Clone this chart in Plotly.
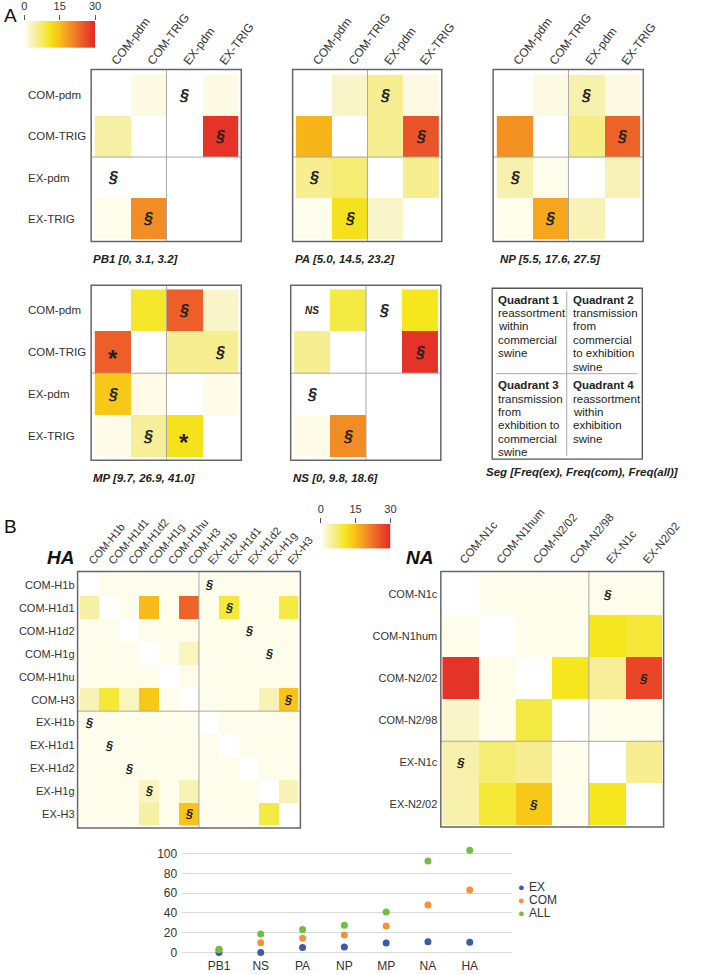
import plotly.graph_objects as go
import numpy as np

W, H = 702, 974
FONT = "Liberation Sans, Arial, Helvetica, sans-serif"

# ---------------- data ----------------
seg_types = ["COM-pdm", "COM-TRIG", "EX-pdm", "EX-TRIG"]

pb1_vals = [[0, 1.0, 0, 1.0],
            [4.5, 0, 0, 29],
            [0, 0, 0, 0],
            [0.7, 20, 0, 0]]
pa_vals = [[0, 2.5, 5.5, 1.0],
           [16, 0, 5.5, 25.5],
           [5.5, 7, 0, 5.5],
           [0.7, 11, 2.5, 0]]
np_vals = [[0, 1.0, 4, 1.0],
           [19.5, 0, 6, 24],
           [4, 0.7, 0, 3.5],
           [0.7, 17.5, 3.5, 0]]
mp_vals = [[0, 10, 24.5, 2.5],
           [24.5, 0, 5.5, 5.5],
           [14, 0.8, 0, 0.8],
           [0.8, 5, 11, 0]]
ns_vals = [[0, 9, 0, 10.5],
           [5.5, 0, 0, 29],
           [0, 0, 0, 0],
           [0.8, 20, 0, 0]]

seg_titles = ["PB1 [0, 3.1, 3.2]", "PA [5.0, 14.5, 23.2]", "NP [5.5, 17.6, 27.5]",
              "MP [9.7, 26.9, 41.0]", "NS [0, 9.8, 18.6]"]
seg_marks = [(0, 2, "§"), (1, 3, "§"), (2, 0, "§"), (3, 1, "§")]
mp_star_marks = [(1, 0, "*"), (3, 2, "*")]

ha_types = ["COM-H1b", "COM-H1d1", "COM-H1d2", "COM-H1g", "COM-H1hu", "COM-H3",
            "EX-H1b", "EX-H1d1", "EX-H1d2", "EX-H1g", "EX-H3"]
ha_vals = [
    [0, 0.7, 0.7, 0.7, 0.7, 0.7, 0.7, 0.7, 0.7, 0.7, 0.7],
    [4.5, 0, 0.7, 15.5, 0.7, 24, 0.7, 9.5, 0.7, 0.7, 9],
    [0.7, 0.7, 0, 0.7, 0.7, 0.7, 0.7, 0.7, 0.7, 0.7, 0.7],
    [0.7, 0.7, 0.7, 0, 0.7, 3, 0.7, 0.7, 0.7, 0.7, 0.7],
    [0.7, 0.7, 0.7, 0.7, 0, 0.7, 0.7, 0.7, 0.7, 0.7, 0.7],
    [3.5, 9.5, 3, 14, 0.7, 0, 0.7, 0.7, 0.7, 3.5, 14.5],
    [0.7, 0.7, 0.7, 0.7, 0.7, 0.7, 0, 0.7, 0.7, 0.7, 0.7],
    [0.7, 0.7, 0.7, 0.7, 0.7, 0.7, 0.7, 0, 0.7, 0.7, 0.7],
    [0.7, 0.7, 0.7, 0.7, 0.7, 0.7, 0.7, 0.7, 0, 0.7, 0.7],
    [0.7, 0.7, 0.7, 3, 0.7, 3.5, 0.7, 0.7, 0.7, 0, 3.5],
    [0.7, 0.7, 0.7, 4.5, 0.7, 14.5, 0.7, 0.7, 0.7, 9, 0],
]
ha_marks = [(0, 6, "§"), (1, 7, "§"), (2, 8, "§"), (3, 9, "§"), (5, 10, "§"),
            (6, 0, "§"), (7, 1, "§"), (8, 2, "§"), (9, 3, "§"), (10, 5, "§")]

na_types = ["COM-N1c", "COM-N1hum", "COM-N2/02", "COM-N2/98", "EX-N1c", "EX-N2/02"]
na_vals = [
    [0, 0.7, 0.7, 0.7, 0.7, 0.7],
    [0.7, 0, 0.7, 0.7, 10.5, 9.5],
    [29, 0.7, 0, 10.5, 5, 27],
    [2.5, 0.7, 9, 0, 0.7, 0.7],
    [4, 7, 5.5, 0.7, 0, 5.5],
    [4, 9.5, 14, 0.7, 10.5, 0],
]
na_marks = [(0, 4, "§"), (2, 5, "§"), (4, 0, "§"), (5, 2, "§")]

segments = ["PB1", "NS", "PA", "NP", "MP", "NA", "HA"]
freq_ex = [0, 0, 5.0, 5.5, 9.7, 10.8, 10.3]
freq_com = [3.1, 9.8, 14.5, 17.6, 26.9, 48, 63.3]
freq_all = [3.2, 18.6, 23.2, 27.5, 41.0, 92.6, 103.6]
series_names = ["EX", "COM", "ALL"]
series_colors = ["#3B5BA9", "#F4913C", "#71BE45"]

cbar_ticks = [0, 15, 30]

quad_col1 = [("<b>Quadrant 1</b>", 298), ("reassortment", 311), ("within", 324),
             ("commercial", 338), ("swine", 351),
             ("<b>Quadrant 3</b>", 383), ("transmission", 397), ("from", 411),
             ("exhibition to", 424), ("commercial", 438), ("swine", 451)]
quad_col2 = [("<b>Quadrant 2</b>", 298), ("transmission", 311), ("from", 324),
             ("commercial", 338), ("to exhibition", 351), ("swine", 365),
             ("<b>Quadrant 4</b>", 383), ("reassortment", 397), ("within", 411),
             ("exhibition", 424), ("swine", 438)]

# ---------------- styling ----------------
CS = [[0, '#FFFFFF'], [0.02, '#FEFCEC'], [0.05, '#FCF8DA'], [0.15, '#F7EFA4'],
      [0.25, '#F4EB6A'], [0.35, '#F5E61E'], [0.5, '#F9BF17'], [0.67, '#F28B24'],
      [0.83, '#EC5A28'], [1, '#E52A28']]


def fx(p):
    return p / W


def fy(p):
    return 1 - p / H


fig = go.Figure()
shapes = []
annotations = []
axes = {}


def note(x, y, text, size, color='#222', xanchor='center', yanchor='middle',
         xref='paper', yref='paper', yshift=0):
    annotations.append(dict(xref=xref, yref=yref, x=x, y=y, text=text, showarrow=False,
                            xanchor=xanchor, yanchor=yanchor, yshift=yshift,
                            font=dict(size=size, color=color, family=FONT)))


def refs(n):
    return ('x' if n == 1 else f'x{n}', 'y' if n == 1 else f'y{n}')


def akeys(n):
    return ('xaxis' if n == 1 else f'xaxis{n}', 'yaxis' if n == 1 else f'yaxis{n}')


def add_matrix(n, z, cats, cell, box, xlabels, xfont, xangle, ylabels, yfont,
               marks, mark_size, divider):
    xr, yr = refs(n)
    xk, yk = akeys(n)
    fig.add_trace(go.Heatmap(z=z, x=cats, y=cats, xaxis=xr, yaxis=yr, colorscale=CS,
                             zmin=0, zmax=30, showscale=False, hoverinfo='skip'))
    x0, x1, y0, y1 = cell
    axes[xk] = dict(domain=[fx(x0), fx(x1)], anchor=yr, side='top', type='category',
                    showticklabels=xlabels, tickangle=xangle,
                    tickfont=dict(size=xfont, color='#333'), ticks='',
                    showgrid=False, zeroline=False, showline=False,
                    ticklabelstandoff=3)
    axes[yk] = dict(domain=[fy(y1), fy(y0)], anchor=xr, type='category',
                    autorange='reversed', showticklabels=ylabels,
                    tickfont=dict(size=yfont, color='#333'), ticks='',
                    showgrid=False, zeroline=False, showline=False,
                    ticklabelstandoff=4)
    bx0, bx1, by0, by1 = box
    shapes.append(dict(type='line', xref=xr, yref='paper', x0=divider, x1=divider,
                       y0=fy(by0), y1=fy(by1), line=dict(color='#A8A8A8', width=1)))
    shapes.append(dict(type='line', xref='paper', yref=yr, x0=fx(bx0), x1=fx(bx1),
                       y0=divider, y1=divider, line=dict(color='#A8A8A8', width=1)))
    shapes.append(dict(type='rect', xref='paper', yref='paper', x0=fx(bx0), x1=fx(bx1),
                       y0=fy(by1), y1=fy(by0), line=dict(color='#666666', width=1.5)))
    for (r, c, sym) in marks:
        if sym == "*":
            note(cats[c], cats[r], "<b>*</b>", mark_size + 8, xref=xr, yref=yr, yshift=-6)
        else:
            note(cats[c], cats[r], f"<b><i>{sym}</i></b>", mark_size, xref=xr, yref=yr)


A_XANG = -53
# Row 1 of A
add_matrix(1, pb1_vals, seg_types, (94.5, 243, 71, 237), (91, 246, 66, 239),
           True, 12, A_XANG, False, 12, seg_marks, 16, 1.5)
add_matrix(2, pa_vals, seg_types, (302.5, 450, 71, 237), (299, 453, 66, 239),
           True, 12, A_XANG, False, 12, seg_marks, 16, 1.5)
add_matrix(3, np_vals, seg_types, (509.5, 658, 71, 237), (506, 661, 66, 239),
           True, 12, A_XANG, False, 12, seg_marks, 16, 1.5)
# Row 2 of A
add_matrix(4, mp_vals, seg_types, (94.5, 243, 287, 456), (91, 246, 283, 459),
           False, 12, A_XANG, False, 12, seg_marks + mp_star_marks, 16, 1.5)
add_matrix(5, ns_vals, seg_types, (300.5, 449, 287, 456), (297, 452, 283, 459),
           False, 12, A_XANG, False, 12, seg_marks, 16, 1.5)
# B
add_matrix(6, ha_vals, ha_types, (79, 305, 573, 827), (77, 307, 571, 829),
           True, 11, -50, True, 11, ha_marks, 12.5, 5.5)
add_matrix(7, na_vals, na_types, (453.5, 680.5, 572.5, 826.5), (452, 682, 571, 828),
           True, 11.5, -50, True, 11, na_marks, 13.5, 3.5)

# "NS" label inside the NS matrix
note(seg_types[0], seg_types[0], "<b><i>NS</i></b>", 10, xref='x5', yref='y5')

# left-aligned row labels for PB1 and MP
for n in (1, 4):
    xr, yr = refs(n)
    for cat in seg_types:
        note(fx(24), cat, cat, 11.5, color='#333', xanchor='left', yref=yr)

# panel titles
title_pos = [(91, 257), (299, 257), (511, 257), (91, 477), (297, 477)]
for t, (tx, ty) in zip(seg_titles, title_pos):
    note(fx(tx), fy(ty), f"<b><i>{t}</i></b>", 11.5, xanchor='left')
note(fx(497), fy(471), "<b><i>Seg [Freq(ex), Freq(com), Freq(all)]</i></b>", 11.5,
     xanchor='left')

# Seg quadrant legend box
shapes.append(dict(type='rect', xref='paper', yref='paper', x0=fx(505), x1=fx(660),
                   y0=fy(458), y1=fy(286), line=dict(color='#555555', width=1.3)))
shapes.append(dict(type='line', xref='paper', yref='paper', x0=fx(582), x1=fx(582),
                   y0=fy(289), y1=fy(455), line=dict(color='#AAAAAA', width=1)))
shapes.append(dict(type='line', xref='paper', yref='paper', x0=fx(509), x1=fx(655),
                   y0=fy(372), y1=fy(372), line=dict(color='#AAAAAA', width=1)))
for col_x, lines in ((509, quad_col1), (586, quad_col2)):
    for txt, ty in lines:
        note(fx(col_x), fy(ty), txt, 11.5, xanchor='left')

# big letters and gene labels
note(fx(8), fy(12), "A", 19, color='#111')
note(fx(8), fy(526), "B", 19, color='#111')
note(fx(59), fy(557), "<b><i>HA</i></b>", 19, color='#111')
note(fx(430), fy(557), "<b><i>NA</i></b>", 19, color='#111')

# ---------------- colour bars (gradient strips) ----------------
cb_scale = np.linspace(0, 30, 121)
for n, (x0, x1, y0, y1) in ((9, (22, 95, 17, 44)), (10, (328, 400, 523, 548))):
    xr, yr = refs(n)
    xk, yk = akeys(n)
    fig.add_trace(go.Heatmap(z=[cb_scale], x=cb_scale, y=[0], xaxis=xr, yaxis=yr,
                             colorscale=CS, zmin=0, zmax=30, showscale=False,
                             hoverinfo='skip'))
    axes[xk] = dict(domain=[fx(x0), fx(x1)], anchor=yr, side='top', range=[0, 30],
                    tickvals=cbar_ticks, ticks='outside', ticklen=5, tickcolor='#555',
                    tickwidth=1, tickfont=dict(size=11, color='#333'),
                    showgrid=False, zeroline=False, showline=False)
    axes[yk] = dict(domain=[fy(y1), fy(y0)], anchor=xr, range=[-0.5, 0.5],
                    showticklabels=False, showgrid=False, zeroline=False, ticks='')

# ---------------- scatter of frequencies ----------------
for name, vals, col in zip(series_names, [freq_ex, freq_com, freq_all], series_colors):
    fig.add_trace(go.Scatter(x=segments, y=vals, mode='markers', name=name,
                             marker=dict(color=col, size=7), xaxis='x8', yaxis='y8',
                             showlegend=False, hoverinfo='skip'))
axes['xaxis8'] = dict(domain=[fx(185), fx(525)], anchor='y8', type='category',
                      range=[-0.88, 7.0], showgrid=False, zeroline=False, showline=False,
                      ticks='', tickfont=dict(size=12, color='#333'))
axes['yaxis8'] = dict(domain=[fy(959.3), fy(845.1)], anchor='x8', range=[-5, 110],
                      tickvals=[0, 20, 40, 60, 80, 100], showgrid=True,
                      gridcolor='#D9D9D9', gridwidth=1, zeroline=False, showline=False,
                      ticks='', tickfont=dict(size=12, color='#333'),
                      ticklabelstandoff=4)
for name, col, ty in zip(series_names, series_colors, [888, 902, 915]):
    note(fx(535), fy(ty), "●", 11, color=col)
    note(fx(541), fy(ty), name, 12, color='#333', xanchor='left')

fig.update_layout(width=W, height=H, margin=dict(l=0, r=0, t=0, b=0),
                  paper_bgcolor='white', plot_bgcolor='rgba(0,0,0,0)',
                  font=dict(family=FONT, color='#333'), showlegend=False,
                  shapes=shapes, annotations=annotations, **axes)

fig.write_html("out.html",
               config={'displayModeBar': False, 'responsive': False},
               post_script="document.body.style.margin='0';document.body.style.overflow='hidden';")
